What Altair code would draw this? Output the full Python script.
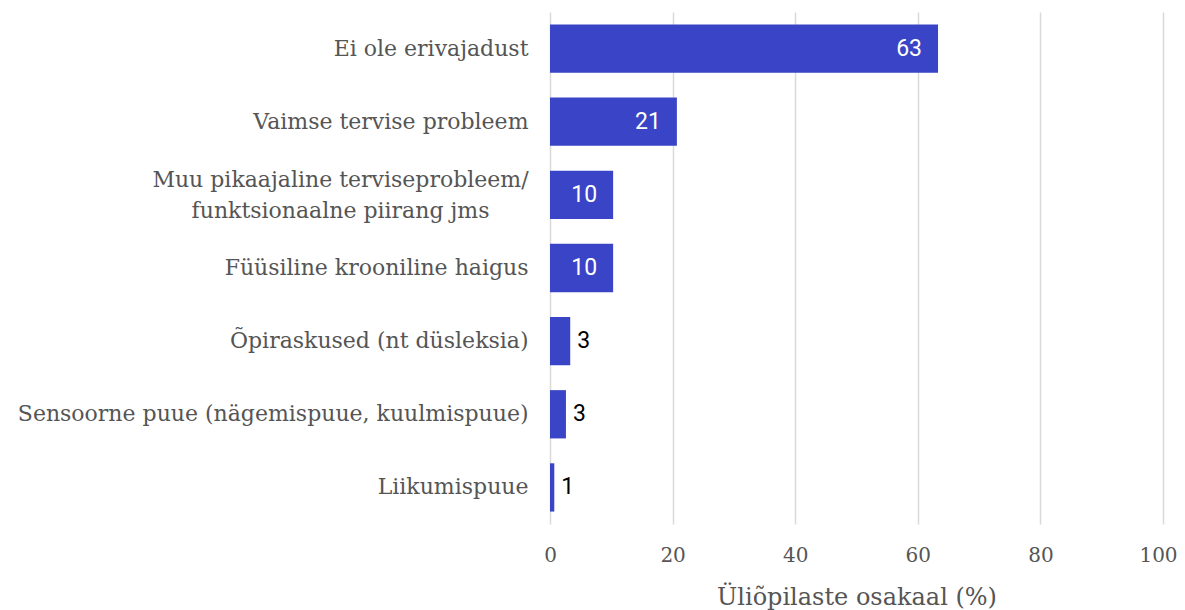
import altair as alt
import pandas as pd

categories = [
    "Ei ole erivajadust",
    "Vaimse tervise probleem",
    "Muu pikaajaline terviseprobleem/\nfunktsionaalne piirang jms",
    "Füüsiline krooniline haigus",
    "Õpiraskused (nt düsleksia)",
    "Sensoorne puue (nägemispuue, kuulmispuue)",
    "Liikumispuue",
]
values = [63.3, 20.7, 10.3, 10.3, 3.3, 2.6, 0.7]
labels = ["63", "21", "10", "10", "3", "3", "1"]
ticks = [0, 20, 40, 60, 80, 100]

df = pd.DataFrame({"cat": categories, "val": values, "lab": labels})
df["inside"] = df["val"] >= 8

FONT = "DejaVu Serif"
NUMFONT = "Roboto"
BAR = "#3944c6"

multi = "indexof(datum.value, '\\n') >= 0"

y = alt.Y("cat:N", sort=categories, title=None,
          scale=alt.Scale(paddingInner=0.34, paddingOuter=0.17),
          axis=alt.Axis(labelFont=FONT, labelFontSize=22, labelColor="#555555",
                        labelPadding={"condition": {"test": multi, "value": 210}, "value": 22},
                        labelAlign={"condition": {"test": multi, "value": "center"}, "value": "right"},
                        labelOffset={"condition": {"test": multi, "value": -15}, "value": 0},
                        ticks=False, domain=False, labelLimit=700,
                        labelExpr="split(datum.label, '\\n')", labelLineHeight=31))
x = alt.X("val:Q", title="Üliõpilaste osakaal (%)",
          scale=alt.Scale(domain=[0, 100]),
          axis=alt.Axis(values=ticks, labelFont=FONT, labelFontSize=20,
                        labelColor="#555555", labelPadding=21, ticks=False, domain=False,
                        labelFlush=False,
                        labelOffset={"condition": {"test": "datum.value == 100", "value": -5}, "value": 0},
                        gridColor="#d9d9d9", gridWidth=1.5,
                        titleFont=FONT, titleFontSize=24, titleFontWeight="normal",
                        titleColor="#555555", titlePadding=20))

bars = alt.Chart(df).mark_bar(color=BAR).encode(x=x, y=y)

inside = alt.Chart(df).transform_filter("datum.inside").mark_text(
    align="right", dx=-16, font=NUMFONT, fontSize=23, color="white"
).encode(x="val:Q", y=alt.Y("cat:N", sort=categories), text="lab:N")

outside = alt.Chart(df).transform_filter("!datum.inside").mark_text(
    align="left", dx=7, font=NUMFONT, fontSize=23, color="black"
).encode(x="val:Q", y=alt.Y("cat:N", sort=categories), text="lab:N")

chart = (bars + inside + outside).properties(
    width=613, height=512,
    autosize=alt.AutoSizeParams(type="none"),
    padding={"left": 542, "top": 4, "right": 14, "bottom": 90},
).configure_view(stroke=None)

chart.save("out.html", embed_options={"renderer": "svg", "actions": False})
